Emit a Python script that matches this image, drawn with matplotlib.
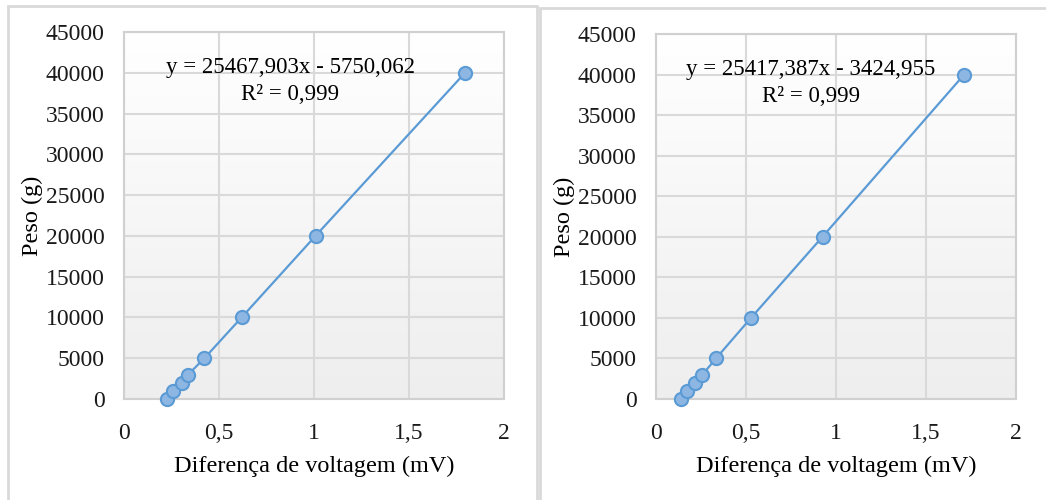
import matplotlib
matplotlib.use("Agg")
import matplotlib.pyplot as plt
import numpy as np
from matplotlib.patches import Rectangle

plt.rcParams['font.family'] = ['Liberation Serif', 'DejaVu Serif']

peso = [0, 1000, 2000, 3000, 5000, 10000, 20000, 40000]
volt_left = [0.225, 0.259, 0.303, 0.338, 0.423, 0.619, 1.008, 1.795]
volt_right = [0.137, 0.170, 0.217, 0.258, 0.333, 0.528, 0.925, 1.712]
eq_left = "y = 25467,903x - 5750,062"
eq_right = "y = 25417,387x - 3424,955"
r2_text = "R² = 0,999"
xticks = [0, 0.5, 1, 1.5, 2]
xticklabels = ["0", "0,5", "1", "1,5", "2"]
yticks = list(range(0, 45001, 5000))
xlabel = "Diferença de voltagem (mV)"
ylabel = "Peso (g)"

W, H = 1046, 500
fig = plt.figure(figsize=(W / 100, H / 100), dpi=100)
fig.patch.set_facecolor('white')

border = '#D9D9D9'
fig.patches.append(Rectangle((8 / W, -0.05), (537 - 8) / W, (H - 6) / H + 0.05,
                             transform=fig.transFigure, fill=False,
                             edgecolor=border, lw=2))
fig.patches.append(Rectangle((540 / W, -0.05), 0.6, (H - 8) / H + 0.05,
                             transform=fig.transFigure, fill=False,
                             edgecolor=border, lw=2))

line_c = '#5B9BD5'
fill_c = '#8DB6E3'

def make(ax, xs, eq, eq_x):
    grad = np.linspace(1.0, 0.0, 256).reshape(-1, 1)
    ax.imshow(grad, extent=[0, 1, 0, 1], transform=ax.transAxes, aspect='auto',
              cmap=matplotlib.colors.LinearSegmentedColormap.from_list(
                  'g', ['#EEEEEE', '#FFFFFF']), vmin=0, vmax=1, zorder=0,
              interpolation='bilinear')
    ax.plot(xs, peso, color=line_c, lw=1.6, marker='o', markersize=9.5,
            markerfacecolor=fill_c, markeredgecolor=line_c, markeredgewidth=1.5,
            zorder=3, clip_on=False)
    ax.set_xlim(0, 2)
    ax.set_ylim(0, 45000)
    ax.set_xticks(xticks)
    ax.set_xticklabels(xticklabels)
    ax.set_yticks(yticks)
    ax.set_yticklabels([str(v) for v in yticks])
    ax.grid(True, color='#D9D9D9', lw=1.5, zorder=1)
    ax.set_axisbelow(True)
    for s in ax.spines.values():
        s.set_color('#D0D0D0')
        s.set_linewidth(1.5)
    ax.tick_params(length=0, labelsize=17, colors='#1a1a1a')
    ax.tick_params(axis='x', pad=17)
    ax.tick_params(axis='y', pad=14)
    ax.set_xlabel(xlabel, fontsize=17.5, labelpad=9)
    ax.set_ylabel(ylabel, fontsize=17.5, labelpad=2)
    ax.text(eq_x, 0.903, eq, transform=ax.transAxes, ha='center', va='center',
            fontsize=16.5, zorder=4)
    ax.text(eq_x, 0.83, r2_text, transform=ax.transAxes, ha='center', va='center',
            fontsize=16.5, zorder=4)

ax1 = fig.add_axes([124 / W, (H - 399) / H, 380 / W, (399 - 32) / H])
make(ax1, volt_left, eq_left, 0.437)
ax2 = fig.add_axes([656 / W, (H - 399) / H, 360 / W, (399 - 34) / H])
make(ax2, volt_right, eq_right, 0.43)

fig.savefig('out.png', dpi=100)
